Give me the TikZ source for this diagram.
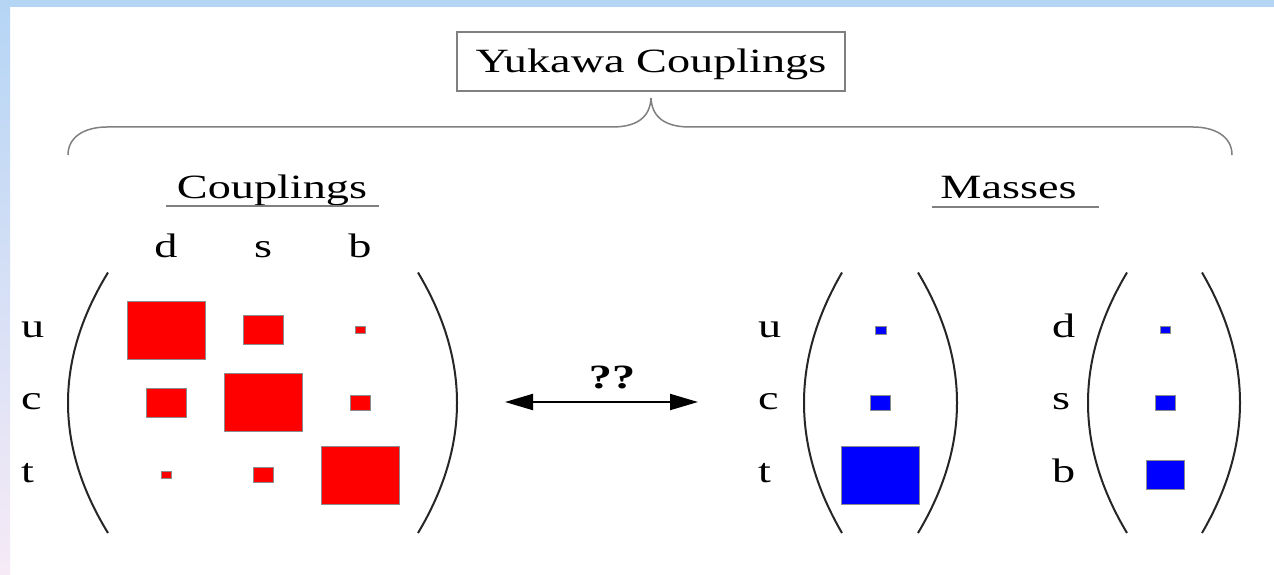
\documentclass[tikz,border=0pt]{standalone}
\usepackage{fontspec}
\newfontfamily\ykfont[FakeStretch=1.36]{Liberation Serif}
\usetikzlibrary{matrix, arrows.meta}
\definecolor{bandblue}{RGB}{181,213,245}
\definecolor{bandpink}{RGB}{246,234,246}
\newcommand{\curvedelim}[2]{\draw[delim] (#1,272.5) .. controls ({#2-(#1-#2)/3},359.5) and ({#2-(#1-#2)/3},446) .. (#1,533);}

\begin{document}
\begin{tikzpicture}[x=1pt, y=-1pt,
    lbl/.style={font=\ykfont\fontsize{34}{40}\selectfont, inner sep=0pt},
    sq/.style={rectangle, inner sep=0pt, draw=black!45, line width=0.7pt, anchor=center},
    bigsq/.style={minimum width=78pt, minimum height=58pt},
    midsq/.style={minimum width=40pt, minimum height=29pt},
    lilsq/.style={minimum width=20pt, minimum height=15pt},
    dotsq/.style={minimum width=10pt, minimum height=7.5pt},
    rule/.style={draw=black!50, line width=1.5pt},
    delim/.style={draw=black!85, line width=2pt},
    dblarrow/.style={line width=2pt, >={Triangle[length=28pt, width=16pt]}, <->}]
    % frame
    \useasboundingbox (0,0) rectangle (1274,575);
    \fill[white] (0,0) rectangle (1274,575);
    \fill[bandblue] (0,0) rectangle (1274,7);
    \shade[top color=bandblue, bottom color=bandpink] (0,0) rectangle (10,575);

    \node[lbl, draw=black!50, line width=1.2pt, minimum width=388pt, minimum height=59pt,
          text height=26pt, text depth=3pt] (title) at (651,61.5) {Yukawa Couplings};
    \draw[rule] (68,155) .. controls (68,136) and (86,127) .. (107,127) -- (612,127)
        .. controls (636,127) and (650,118) .. (651,98) .. controls (652,118) and (666,127) .. (690,127)
        -- (1193,127) .. controls (1214,127) and (1232,136) .. (1232,155);

    \node[lbl, anchor=base] (cplhead) at (272,198) {Couplings};
    \draw[rule] ([shift={(-11,8)}]cplhead.base west) -- ([shift={(12,8)}]cplhead.base east);
    \node[lbl, anchor=base] (masshead) at (1008.5,198) {Masses};
    \draw[rule] ([shift={(-8.5,9)}]masshead.base west) -- ([shift={(22.5,9)}]masshead.base east);

    % couplings
    \matrix (cpl) [matrix of nodes, nodes in empty cells, nodes={sq, fill=red},
        column sep={97pt,between origins}, row sep={72.5pt,between origins}] at (263,402.5)
    {
        |[bigsq]| & |[midsq]| & |[dotsq]| \\
        |[midsq]| & |[bigsq]| & |[lilsq]| \\
        |[dotsq]| & |[lilsq]| & |[bigsq]| \\
    };
    \foreach \q [count=\j] in {d,s,b}
        \node[lbl, anchor=base] (col\q) at (cpl-1-\j |- 0,257) {\q};
    \foreach \q/\y in {u/337,c/409.5,t/482}
        \node[lbl, anchor=base west] (row\q) at (21,\y) {\q};
    \curvedelim{108}{68}
    \curvedelim{418}{457}

    % masses
    \matrix (mup) [matrix of nodes, nodes in empty cells, nodes={sq, fill=blue},
        row sep={72.5pt,between origins}] at (880.5,415.1)
    {
        |[dotsq, minimum width=11pt, minimum height=8pt]| \\
        |[lilsq]| \\
        |[bigsq]| \\
    };
    \matrix (mdn) [matrix of nodes, nodes in empty cells, nodes={sq, fill=blue},
        row sep={72.5pt,between origins}] at (1165,407.9)
    {
        |[dotsq]| \\
        |[lilsq]| \\
        |[midsq, minimum width=38pt]| \\
    };
    \foreach \q/\y in {u/337,c/409.5,t/482}
        \node[lbl, anchor=base west] (up\q) at (758,\y) {\q};
    \foreach \q/\y in {d/337,s/409.5,b/482}
        \node[lbl, anchor=base west] (dn\q) at (1052,\y) {\q};
    \curvedelim{842}{804}
    \curvedelim{918}{957}
    \curvedelim{1127}{1088}
    \curvedelim{1202}{1240}

    % ??
    \coordinate (lft) at (505,402);
    \coordinate (rgt) at (698,402);
    \draw[dblarrow] (lft) -- (rgt);
    \node[lbl, font=\ykfont\bfseries\fontsize{34}{40}\selectfont, anchor=base] (qq) at (612,388) {??};
\end{tikzpicture}
\end{document}
